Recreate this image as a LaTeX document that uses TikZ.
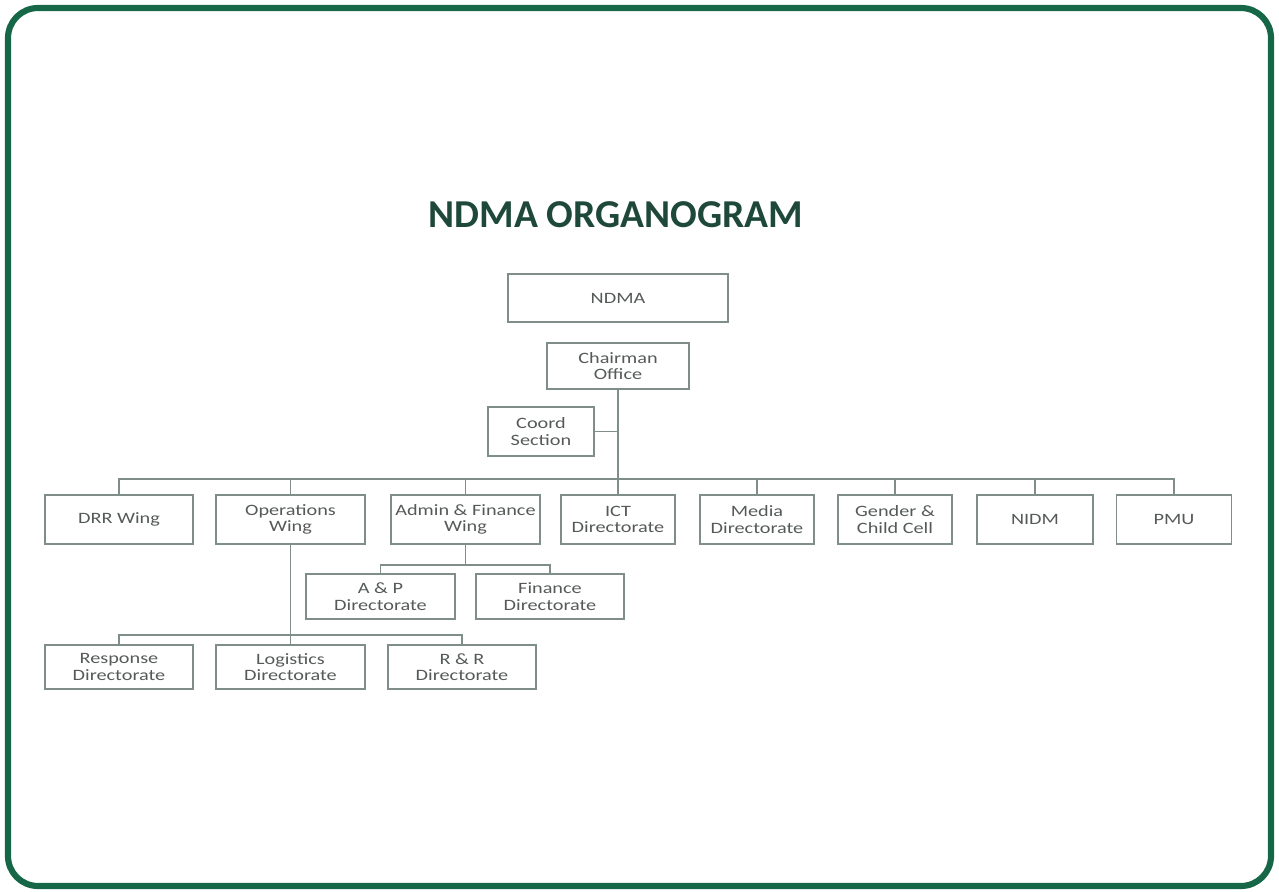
\documentclass[tikz,border=0pt]{standalone}
\usepackage{fontspec}
\setmainfont{Carlito}
\newfontfamily\boxfont[FakeStretch=1.28]{Carlito}
\usepackage{tikz}
\definecolor{framegreen}{RGB}{22,102,72}
\definecolor{titlegreen}{RGB}{30,72,58}
\definecolor{boxline}{RGB}{128,142,137}
\definecolor{boxtext}{RGB}{85,90,88}

\begin{document}
\begin{tikzpicture}[x=0.02cm,y=-0.02cm,
		unit/.style={draw=boxline,line width=0.9pt,text=boxtext,align=center,inner sep=0pt,
			font=\boxfont\fontsize{9}{9.5}\selectfont},
		link/.style={draw=boxline,line width=0.9pt}]
			\useasboundingbox (0,0) rectangle (1279,892);
			\draw[framegreen,line width=3.5pt,rounded corners=0.6cm] (8,8) rectangle (1271,886);
			\node[font=\fontsize{22.5}{27}\selectfont\bfseries,text=titlegreen] (title) at (616,215) {NDMA ORGANOGRAM};
			% top
			\node[unit,minimum width=4.4cm,minimum height=0.96cm] (ndma) at (618,298) {NDMA};
			\node[unit,minimum width=2.84cm,minimum height=0.92cm] (chair) at (618,366) {Chairman\\Office};
			\node[unit,minimum width=2.12cm,minimum height=0.98cm] (coord) at (541,431.5) {Coord\\Section};
			% wings and directorates
			\node[unit,minimum width=2.96cm,minimum height=0.98cm] (drr) at (119,519.5) {DRR Wing};
			\node[unit,minimum width=2.98cm,minimum height=0.98cm] (ops) at (290.5,519.5) {Operations\\Wing};
			\node[unit,minimum width=2.98cm,minimum height=0.98cm] (adfin) at (465.5,519.5) {Admin \& Finance\\Wing};
			\node[unit,minimum width=2.28cm,minimum height=0.98cm] (ict) at (618,519.5) {ICT\\Directorate};
			\node[unit,minimum width=2.28cm,minimum height=0.98cm] (media) at (757,519.5) {Media\\Directorate};
			\node[unit,minimum width=2.28cm,minimum height=0.98cm] (gender) at (895,519.5) {Gender \&\\Child Cell};
			\node[unit,minimum width=2.32cm,minimum height=0.98cm] (nidm) at (1035,519.5) {NIDM};
			\node[unit,minimum width=2.3cm,minimum height=0.98cm] (pmu) at (1174,519.5) {PMU};
			% second level
			\node[unit,minimum width=2.98cm,minimum height=0.9cm] (ap) at (380.5,596.5) {A \& P\\Directorate};
			\node[unit,minimum width=2.96cm,minimum height=0.9cm] (fin) at (550,596.5) {Finance\\Directorate};
			\node[unit,minimum width=2.96cm,minimum height=0.88cm] (resp) at (119,667) {Response\\Directorate};
			\node[unit,minimum width=2.98cm,minimum height=0.88cm] (logi) at (290.5,667) {Logistics\\Directorate};
			\node[unit,minimum width=2.96cm,minimum height=0.88cm] (rr) at (462,667) {R \& R\\Directorate};
			% connectors
			\coordinate (bus) at (618,479);
			\coordinate (apbus) at (465.5,565);
			\coordinate (opsbus) at (290.5,635);
			\draw[link] (chair) -- (ict);
			\draw[link] (coord) -- (coord -| chair);
			\draw[link] (drr) |- (bus) -| (pmu);
			\foreach \n in {ops,adfin,media,gender,nidm}
				\draw[link] (\n) -- (\n |- bus);
			\draw[link] (adfin) -- (apbus);
			\draw[link] (ap) |- (apbus) -| (fin);
			\draw[link] (ops) -- (logi);
			\draw[link] (resp) |- (opsbus) -| (rr);
		\end{tikzpicture}
\end{document}
